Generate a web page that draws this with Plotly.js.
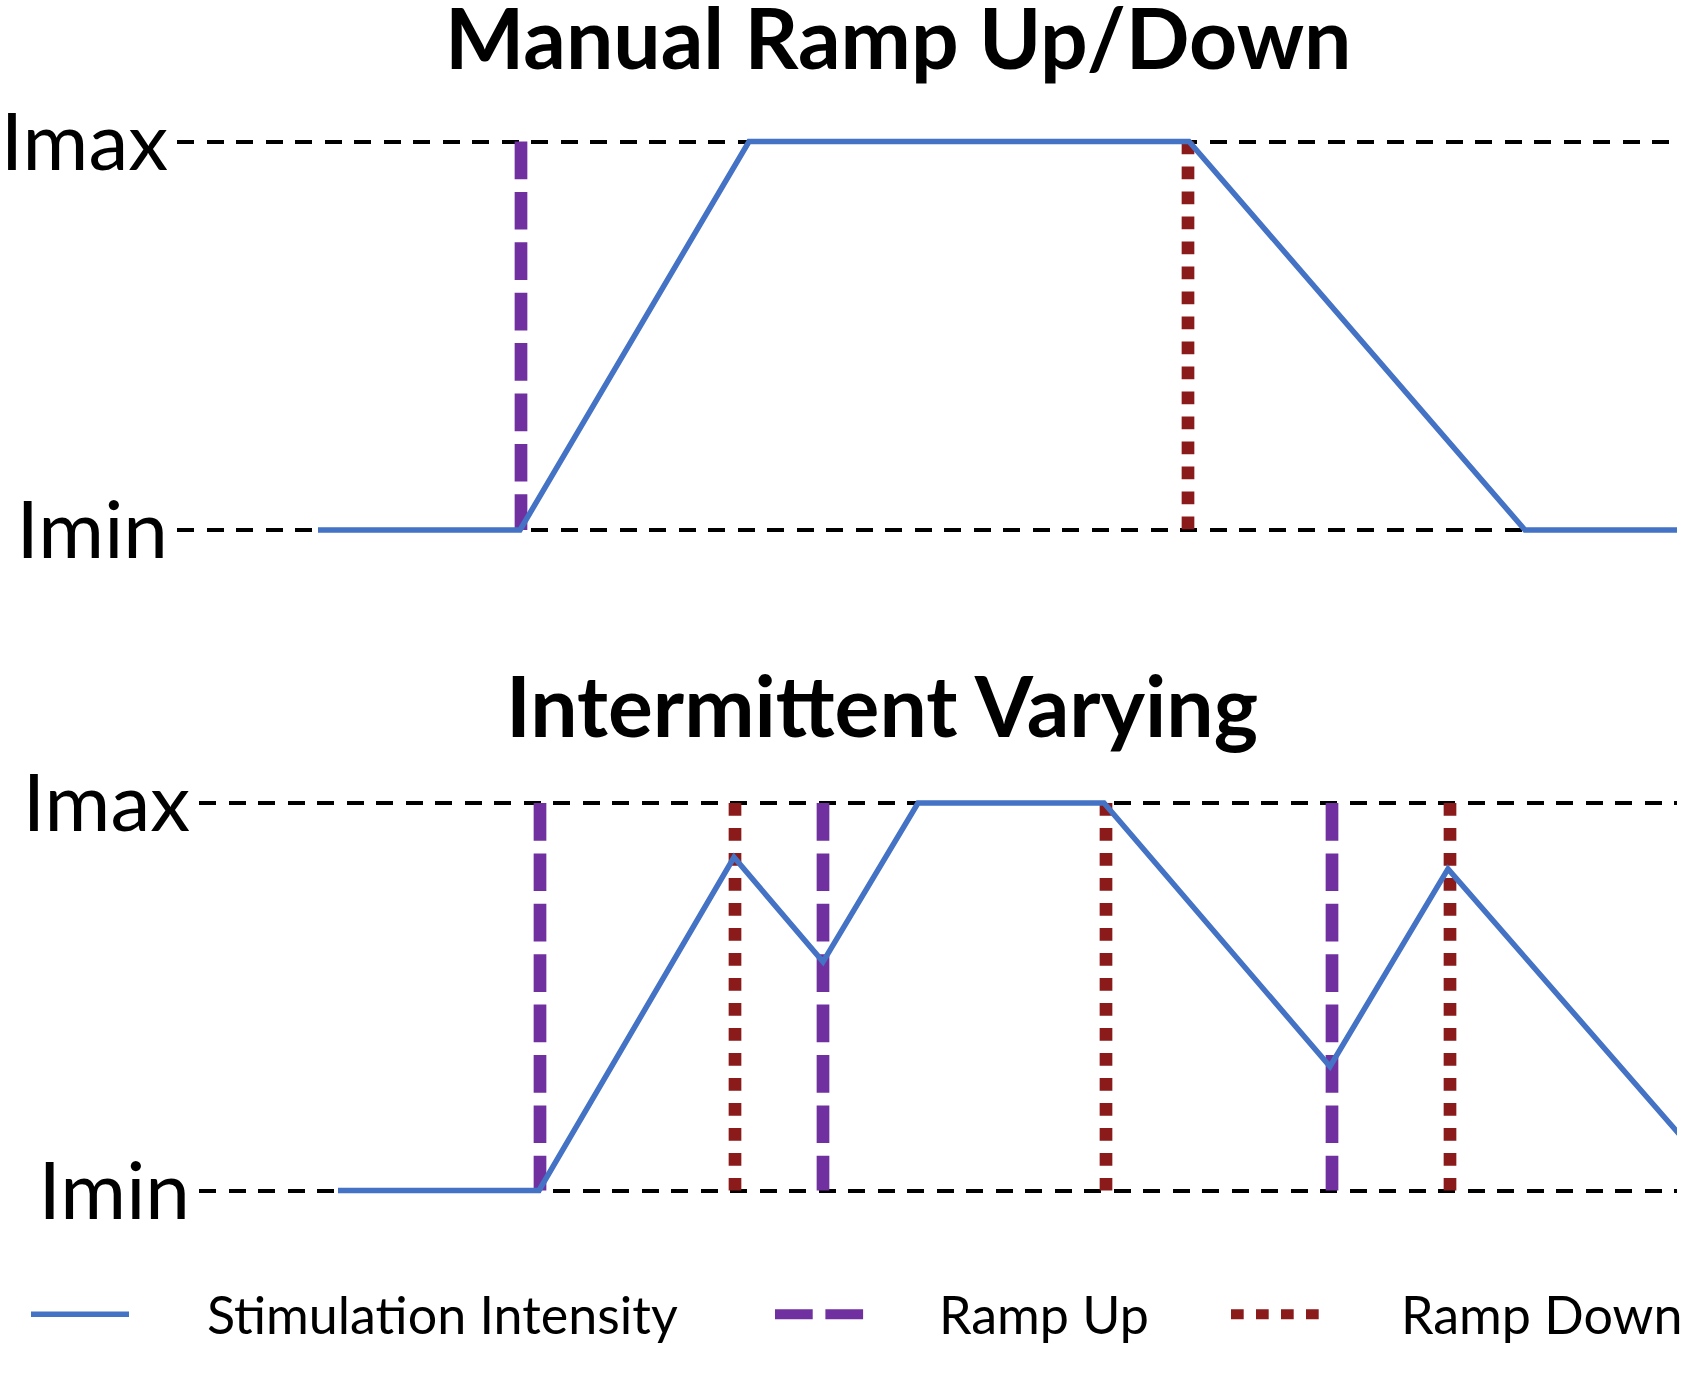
<!DOCTYPE html>
<html>
<head>
<meta charset="utf-8">
<script src="https://cdn.plot.ly/plotly-3.0.1.min.js"></script>
<style>
  html, body { margin: 0; padding: 0; background: #ffffff; }
  #chart { width: 1684px; height: 1376px; }
</style>
</head>
<body>
<div id="chart"></div>
<script>
// ---------- data (time in arbitrary units, intensity normalised: Imin = 0, Imax = 1) ----------
const panelTitles = ['Manual Ramp Up/Down', 'Intermittent Varying'];
const seriesNames = ['Stimulation Intensity', 'Ramp Up', 'Ramp Down'];
const levelTicks = [0, 1];
const levelLabels = ['Imin', 'Imax'];

const timeTop = [31.8, 52.0, 74.9, 118.9, 152.5, 167.8];
const intensityTop = [0, 0, 1, 1, 0, 0];
const rampUpTop = [52.1];
const rampDownTop = [118.8];

const timeBottom = [33.8, 53.9, 73.4, 82.3, 91.8, 110.4, 133.0, 144.8, 168.1];
const intensityBottom = [0, 0, 0.86, 0.59, 1, 1, 0.32, 0.83, 0.14];
const rampUpBottom = [54.0, 82.3, 133.2];
const rampDownBottom = [73.5, 110.6, 145.0];

// ---------- styles ----------
const COL_BLUE = '#4472C4';
const COL_PURPLE = '#7030A0';
const COL_RED = '#8B1A1A';
const FONT = 'Lato, "Open Sans", "DejaVu Sans", sans-serif';
const W = 1684, H = 1376;

function markerLines(times) {
  const x = [], y = [];
  times.forEach(t => { x.push(t, t, null); y.push(levelTicks[1], levelTicks[0], null); });
  return { x, y };
}

// legend symbols come from the traces themselves; their labels are set beside them
// with a wide gap, as in the reference
function panelTraces(time, intensity, ups, downs, xa, ya, showLegend) {
  const u = markerLines(ups), d = markerLines(downs);
  return [
    { type: 'scatter', mode: 'lines', x: u.x, y: u.y, xaxis: xa, yaxis: ya,
      name: '', legend: 'legend2', legendgroup: 'up', showlegend: showLegend,
      line: { color: COL_PURPLE, width: 12.7, dash: '37.7px,12.7px' }, hoverinfo: 'skip' },
    { type: 'scatter', mode: 'lines', x: d.x, y: d.y, xaxis: xa, yaxis: ya,
      name: '', legend: 'legend3', legendgroup: 'down', showlegend: showLegend,
      line: { color: COL_RED, width: 12.7, dash: '12.7px,12.3px' }, hoverinfo: 'skip' },
    { type: 'scatter', mode: 'lines', x: time, y: intensity, xaxis: xa, yaxis: ya,
      name: '', legend: 'legend', legendgroup: 'stim', showlegend: showLegend,
      line: { color: COL_BLUE, width: 5.5 }, hoverinfo: 'skip' }
  ];
}

const data = [].concat(
  panelTraces(timeTop, intensityTop, rampUpTop, rampDownTop, 'x', 'y', true),
  panelTraces(timeBottom, intensityBottom, rampUpBottom, rampDownBottom, 'x2', 'y2', false)
);

function yAxis(domain) {
  return {
    domain: domain, range: [-0.1, 1.1], fixedrange: true,
    tickmode: 'array', tickvals: levelTicks, ticktext: levelLabels,
    showgrid: true, gridcolor: '#000000', gridwidth: 4, griddash: '17px,12.5px',
    zeroline: false, showline: false, ticks: '', ticklabelstandoff: 8,
    tickfont: { family: FONT, size: 80, color: '#000000' }
  };
}
function xAxis(domain, range) {
  return { domain: domain, range: range, visible: false, fixedrange: true, showgrid: false, zeroline: false };
}

function legendAt(xpx) {
  return {
    orientation: 'h', x: xpx / W, y: 21 / H, xanchor: 'left', yanchor: 'bottom',
    bgcolor: 'rgba(0,0,0,0)', borderwidth: 0, itemwidth: 98,
    font: { family: FONT, size: 52, color: '#000000' }, itemclick: false, itemdoubleclick: false
  };
}

// legend label x positions (px) for the three series
const legendLabelX = [205, 937, 1399];
const legendLabels = seriesNames.map((name, i) => ({
  text: name, xref: 'paper', yref: 'paper', x: legendLabelX[i] / W, y: 1 - 1314 / H,
  xanchor: 'left', yanchor: 'middle', showarrow: false,
  font: { family: FONT, size: 52, color: '#000000' }
}));

const layout = {
  width: W, height: H,
  margin: { l: 0, r: 0, t: 0, b: 0 },
  paper_bgcolor: '#ffffff', plot_bgcolor: 'rgba(0,0,0,0)',
  showlegend: true,
  xaxis: xAxis([177 / W, 1677 / W], [17.7, 167.7]),
  yaxis: Object.assign(yAxis([1 - 568.85 / H, 1 - 102.65 / H]), { anchor: 'x' }),
  xaxis2: Object.assign(xAxis([199 / W, 1677 / W], [19.9, 167.7]), { anchor: 'y2' }),
  yaxis2: Object.assign(yAxis([1 - 1229.25 / H, 1 - 764.25 / H]), { anchor: 'x2' }),
  legend: legendAt(26),
  legend2: legendAt(770),
  legend3: legendAt(1226),
  annotations: [
    { text: '<b>' + panelTitles[0] + '</b>', xref: 'paper', yref: 'paper', x: 898 / W, y: 1 - 36 / H,
      xanchor: 'center', yanchor: 'middle', showarrow: false, font: { family: FONT, size: 84, color: '#000000' } },
    { text: '<b>' + panelTitles[1] + '</b>', xref: 'paper', yref: 'paper', x: 882 / W, y: 1 - 704 / H,
      xanchor: 'center', yanchor: 'middle', showarrow: false, font: { family: FONT, size: 84, color: '#000000' } }
  ].concat(legendLabels)
};

Plotly.newPlot('chart', data, layout, { staticPlot: true, displayModeBar: false });
</script>
</body>
</html>
